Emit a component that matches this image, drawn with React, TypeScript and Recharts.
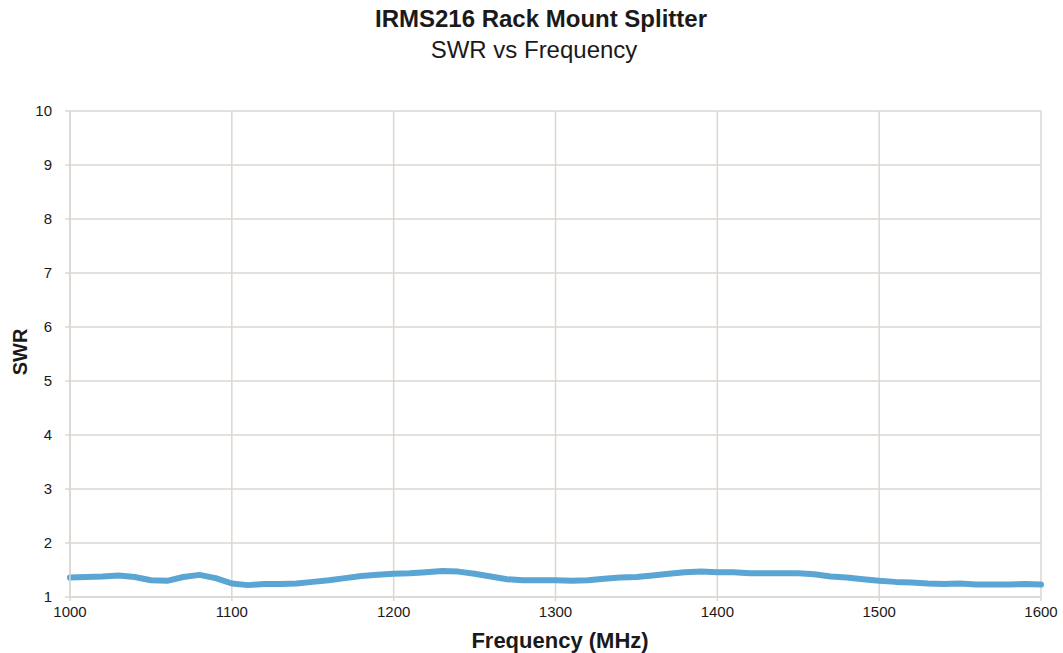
import { CartesianGrid, Line, LineChart, XAxis, YAxis } from "recharts";

const frequencies = [
  1000, 1010, 1020, 1030, 1040, 1050, 1060, 1070, 1080, 1090,
  1100, 1110, 1120, 1130, 1140, 1150, 1160, 1170, 1180, 1190,
  1200, 1210, 1220, 1230, 1240, 1250, 1260, 1270, 1280, 1290,
  1300, 1310, 1320, 1330, 1340, 1350, 1360, 1370, 1380, 1390,
  1400, 1410, 1420, 1430, 1440, 1450, 1460, 1470, 1480, 1490,
  1500, 1510, 1520, 1530, 1540, 1550, 1560, 1570, 1580, 1590,
  1600,
];

const swrValues = [
  1.36, 1.37, 1.38, 1.4, 1.37, 1.31, 1.3, 1.37, 1.41, 1.35,
  1.25, 1.22, 1.24, 1.24, 1.25, 1.28, 1.31, 1.35, 1.39, 1.41,
  1.43, 1.44, 1.46, 1.48, 1.47, 1.43, 1.38, 1.33, 1.31, 1.31,
  1.31, 1.3, 1.31, 1.34, 1.36, 1.37, 1.4, 1.43, 1.46, 1.47,
  1.46, 1.46, 1.44, 1.44, 1.44, 1.44, 1.42, 1.38, 1.36, 1.33,
  1.3, 1.28, 1.27, 1.25, 1.24, 1.25, 1.23, 1.23, 1.23, 1.24,
  1.23,
];

const xTicks = [1000, 1100, 1200, 1300, 1400, 1500, 1600];
const yTicks = [1, 2, 3, 4, 5, 6, 7, 8, 9, 10];

const data = frequencies.map((freq, i) => ({ freq, swr: swrValues[i] }));

const GRID = "#ddd6d0";
const FONT = "'Liberation Sans', Arial, sans-serif";

export default function App() {
  return (
    <div style={{ position: "absolute", left: 0, top: 0, width: 1063, height: 653, background: "#fff", fontFamily: FONT }}>
      <LineChart
        width={1063}
        height={653}
        data={data}
        margin={{ top: 111, right: 22, bottom: 26, left: 0 }}
      >
        <CartesianGrid stroke={GRID} strokeWidth={1.5} />
        <XAxis
          dataKey="freq"
          type="number"
          domain={[1000, 1600]}
          ticks={xTicks}
          interval={0}
          height={30}
          axisLine={{ stroke: GRID, strokeWidth: 1.5 }}
          tickLine={{ stroke: GRID, strokeWidth: 1.5 }}
          tickSize={4}
          tickMargin={5}
          tick={{ fill: "#1a1a1a", fontSize: 15, fontFamily: FONT }}
        />
        <YAxis
          type="number"
          domain={[1, 10]}
          ticks={yTicks}
          interval={0}
          width={70}
          axisLine={{ stroke: GRID, strokeWidth: 1.5 }}
          tickLine={{ stroke: GRID, strokeWidth: 1.5 }}
          tickSize={5}
          tickMargin={13}
          tick={{ fill: "#1a1a1a", fontSize: 15, fontFamily: FONT }}
        />
        <Line
          type="linear"
          dataKey="swr"
          stroke="#5ba5d4"
          strokeWidth={6}
          strokeLinecap="round"
          strokeLinejoin="round"
          dot={false}
          isAnimationActive={false}
        />
      </LineChart>
      <svg
        width={1063}
        height={653}
        style={{ position: "absolute", left: 0, top: 0, pointerEvents: "none" }}
      >
        <text x={541} y={27} textAnchor="middle" fontSize={24} fontWeight="bold" fill="#1a1a1a" fontFamily={FONT}>
          IRMS216 Rack Mount Splitter
        </text>
        <text x={534} y={58} textAnchor="middle" fontSize={24} fill="#1a1a1a" fontFamily={FONT}>
          SWR vs Frequency
        </text>
        <text x={560} y={648} textAnchor="middle" fontSize={22} fontWeight="bold" fill="#1a1a1a" fontFamily={FONT}>
          Frequency (MHz)
        </text>
        <text
          x={0}
          y={0}
          transform="translate(27 352) rotate(-90)"
          textAnchor="middle"
          fontSize={20}
          fontWeight="bold"
          fill="#1a1a1a"
          fontFamily={FONT}
        >
          SWR
        </text>
      </svg>
    </div>
  );
}
